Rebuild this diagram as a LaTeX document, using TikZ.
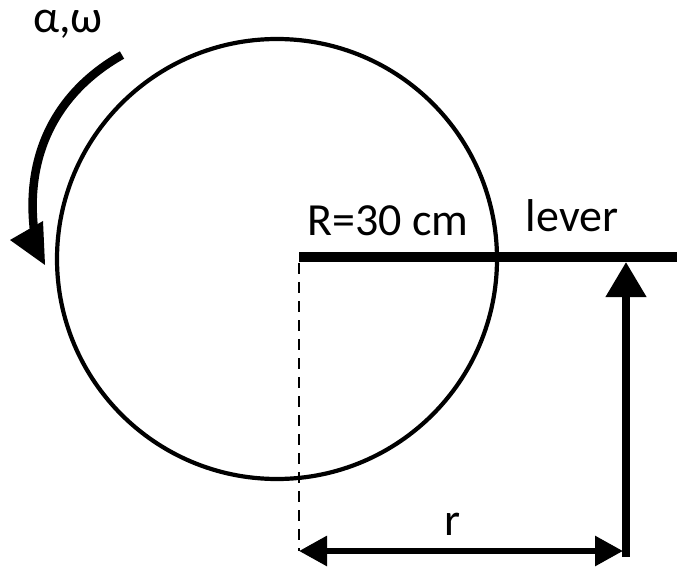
\documentclass[tikz,border=0pt]{standalone}
\usepackage{fontspec}
\setmainfont{Carlito}
\usepackage{tikz}
\usetikzlibrary{arrows.meta}

\begin{document}
\begin{tikzpicture}[x=1pt, y=-1pt,
  lbl/.style={font=\fontsize{46}{54}\selectfont, anchor=base, inner sep=0pt},
  bighead/.style={-{Triangle[width=39pt, length=35pt]}},
  dimhead/.style={{Triangle[width=29pt, length=28pt]}-{Triangle[width=29pt, length=28pt]}}]
\useasboundingbox (0,0) rectangle (677,569);
% wheel and its centre
\coordinate (O) at (277,259);
\draw[line width=4.2pt] (O) circle (220);
% lever bar from the axis to the right edge
\coordinate (leverL) at (299,257);
\coordinate (leverR) at (677,257);
\draw[line width=10pt] (leverL) -- (leverR);
% dashed drop line and the dimension arrow
\coordinate (dropT) at (299,263);
\coordinate (dimL) at (299,551);
\coordinate (dimR) at (623,551);
\draw[line width=2.2pt, dash pattern=on 11pt off 8pt] (dropT) -- (dimL);
\draw[dimhead, line width=6pt] (dimL) -- (dimR);
% force on the lever
\coordinate (forceB) at (626,557);
\coordinate (forceT) at (626,262);
\draw[bighead, line width=7.5pt] (forceB) -- (forceT);
% rotation arrow (alpha, omega)
\coordinate (rotS) at (122,55);
\coordinate (rotE) at (34,230);
\draw[line width=8.5pt] (rotS) .. controls (60,90) and (25,150) .. (rotE);
\fill (10,240) -- (43,221) -- (45,265) -- cycle;
% labels
\node[lbl] (rot) at (68,33) {α,ω};
\node[lbl] (rad) at (388,236) {R=30 cm};
\node[lbl] (lev) at (572,232) {lever};
\node[lbl] (dist) at (453,535) {r};
\end{tikzpicture}
\end{document}
